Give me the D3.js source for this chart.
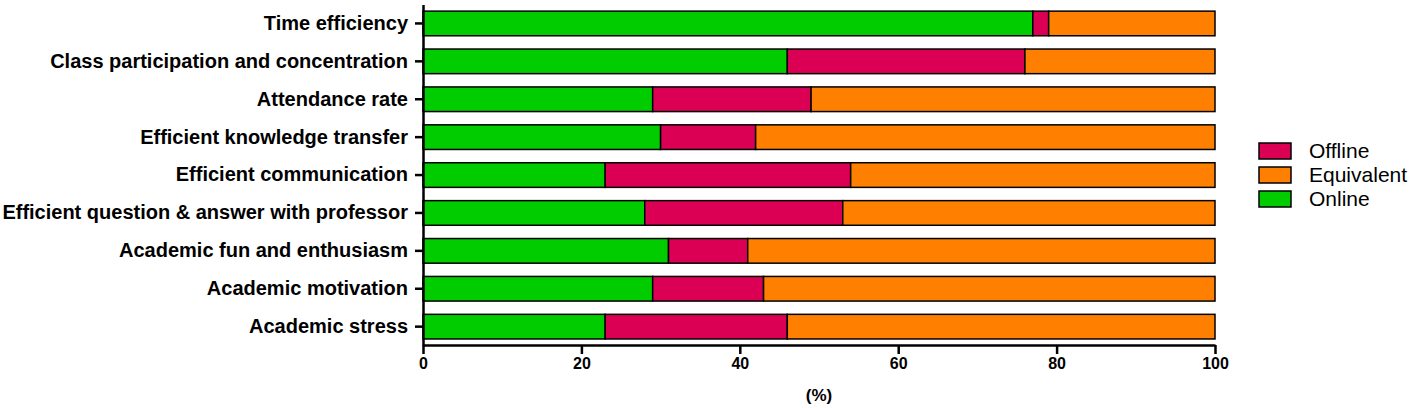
<!DOCTYPE html>
<html>
<head>
<meta charset="utf-8">
<script src="https://cdn.jsdelivr.net/npm/d3@7"></script>
<style>
  body { margin: 0; background: #fff; }
  svg { display: block; font-family: Arial, "Liberation Sans", sans-serif; }
</style>
</head>
<body>
<svg id="chart" width="1418" height="408"></svg>
<script>
var categories = [
    "Time efficiency",
    "Class participation and concentration",
    "Attendance rate",
    "Efficient knowledge transfer",
    "Efficient communication",
    "Efficient question & answer with professor",
    "Academic fun and enthusiasm",
    "Academic motivation",
    "Academic stress"
];
var online     = [77, 46, 29, 30, 23, 28, 31, 29, 23];
var offline    = [2, 30, 20, 12, 31, 25, 10, 14, 23];
var equivalent = [21, 24, 51, 58, 46, 47, 59, 57, 54];
var seriesNames = ["Online", "Offline", "Equivalent"];
var legendOrder = ["Offline", "Equivalent", "Online"];
var xTicks = [0, 20, 40, 60, 80, 100];

var colors = {Online: "#00cc00", Offline: "#dc0055", Equivalent: "#ff8000"};

var svg = d3.select("#chart");

var x = d3.scaleLinear()
    .domain([0, 100])
    .range([423, 1215]);

var y = d3.scaleBand()
    .domain(categories)
    .range([4.5, 345.6])
    .paddingInner(0.35)
    .paddingOuter(0.175);

// build rows for stacking
var rows = categories.map(function(c, i) {
    return {cat: c, Online: online[i], Offline: offline[i], Equivalent: equivalent[i]};
});
var stacked = d3.stack().keys(seriesNames)(rows);

svg.selectAll(".series")
        .data(stacked)
    .enter().append("g")
        .attr("class", "series")
        .attr("fill", function(d) { return colors[d.key]; })
    .selectAll("rect")
        .data(function(d) { return d; })
    .enter().append("rect")
        .attr("x", function(d) { return x(d[0]); })
        .attr("width", function(d) { return x(d[1]) - x(d[0]); })
        .attr("y", function(d) { return y(d.data.cat); })
        .attr("height", y.bandwidth())
        .attr("stroke", "#000")
        .attr("stroke-width", 1.5);

// x axis
var xAxis = svg.append("g")
    .attr("transform", "translate(0,345)")
    .call(d3.axisBottom(x).tickValues(xTicks).tickSize(9).tickPadding(4).tickSizeOuter(0));
xAxis.select(".domain").attr("stroke-width", 2.5);
xAxis.selectAll(".tick line").attr("stroke-width", 2.5);
xAxis.selectAll("text")
    .attr("font-size", 16)
    .attr("font-weight", "bold")
    .attr("font-family", "Arial, 'Liberation Sans', sans-serif")
    .attr("fill", "#000");

// y axis
var yAxis = svg.append("g")
    .attr("transform", "translate(423,0)")
    .call(d3.axisLeft(y).tickSize(8).tickPadding(7).tickSizeOuter(0));
yAxis.select(".domain").attr("stroke-width", 2.5);
yAxis.selectAll(".tick line").attr("stroke-width", 2.5);
yAxis.selectAll("text")
    .attr("font-size", 20)
    .attr("font-weight", "bold")
    .attr("font-family", "Arial, 'Liberation Sans', sans-serif")
    .attr("fill", "#000");

// x axis title
svg.append("text")
    .attr("x", x(50))
    .attr("y", 401)
    .attr("text-anchor", "middle")
    .attr("font-size", 17)
    .attr("font-weight", "bold")
    .text("(%)");

// legend
var legend = svg.append("g")
    .selectAll("g")
        .data(legendOrder)
    .enter().append("g")
        .attr("transform", function(d, i) { return "translate(1259," + (143 + i * 24) + ")"; });

legend.append("rect")
    .attr("width", 32)
    .attr("height", 16)
    .attr("fill", function(d) { return colors[d]; })
    .attr("stroke", "#000")
    .attr("stroke-width", 1.5);

legend.append("text")
    .attr("x", 50)
    .attr("y", 15)
    .attr("font-size", 21)
    .text(function(d) { return d; });
</script>
</body>
</html>
